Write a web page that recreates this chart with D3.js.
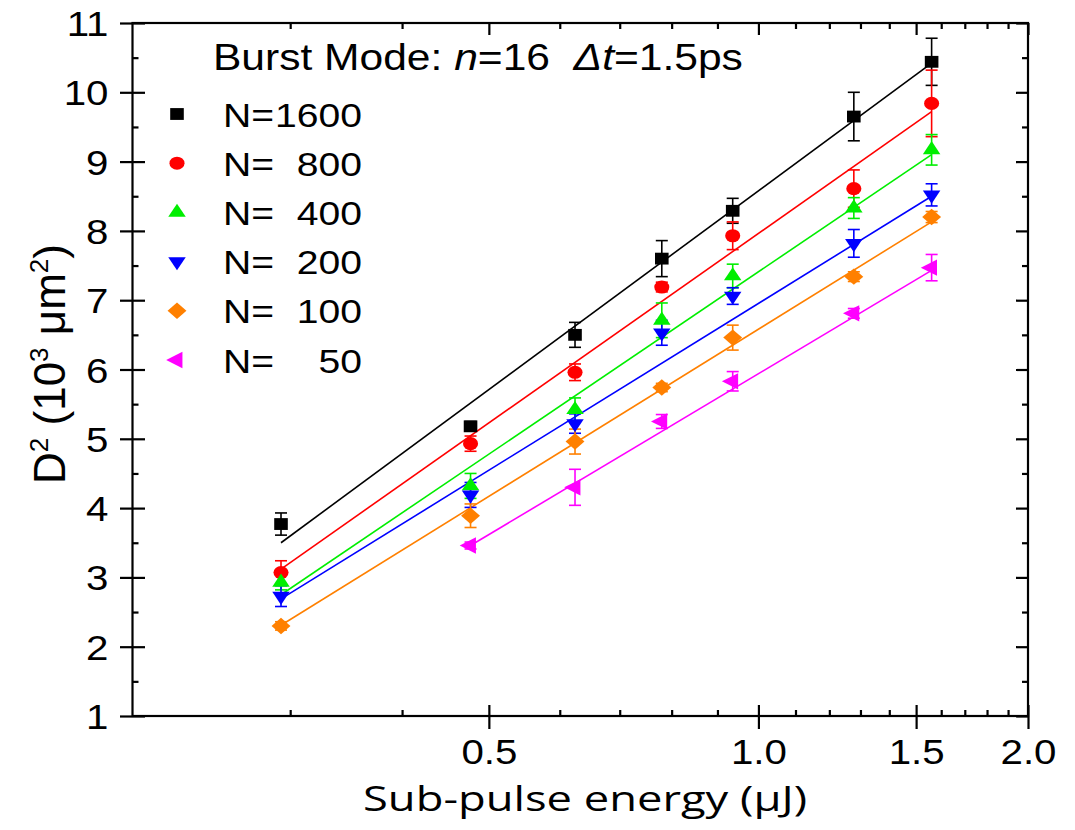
<!DOCTYPE html>
<html>
<head>
<meta charset="utf-8">
<script src="https://cdn.jsdelivr.net/npm/d3@7"></script>
<style>
  html, body { margin: 0; padding: 0; background: #fff; }
  svg { display: block; }
  text { font-family: "Liberation Sans", Arial, sans-serif; fill: #000; white-space: pre; }
</style>
</head>
<body>
<svg id="chart" width="1075" height="830"></svg>
<script>
// ---------- data ----------
const energies = [0.293, 0.477, 0.624, 0.780, 0.936, 1.278, 1.561];   // sub-pulse energy (µJ)

const legendNums = ["1600", "800", "400", "200", "100", "50"];
const colors = ["#000000", "#ff0000", "#00ee00", "#0000ff", "#ff8000", "#ff00ff"];

const d1600 = [3.77, 5.18, 6.50, 7.60, 8.29, 9.65, 10.44];
const e1600 = [0.16, 0.07, 0.18, 0.26, 0.18, 0.35, 0.34];
const d800  = [3.07, 4.93, 5.96, 7.19, 7.93, 8.61, 9.84];
const e800  = [0.17, 0.11, 0.12, 0.07, 0.20, 0.27, 0.48];
const d400  = [2.93, 4.32, 5.42, 6.71, 7.35, 8.33, 9.17];
const e400  = [0.11, 0.18, 0.17, 0.25, 0.17, 0.15, 0.22];
const d200  = [2.73, 4.19, 5.22, 6.53, 7.06, 7.82, 8.52];
const e200  = [0.15, 0.18, 0.14, 0.18, 0.12, 0.20, 0.16];
const d100  = [2.30, 3.89, 4.96, 5.74, 6.46, 7.34, 8.20];
const e100  = [0.06, 0.17, 0.18, 0.06, 0.18, 0.07, 0.08];
const d50   = [null, 3.46, 4.30, 5.25, 5.83, 6.81, 7.47];
const e50   = [null, 0.05, 0.26, 0.10, 0.14, 0.07, 0.19];

// linear fits (straight on the log-x axis): value at first and last fitted energy
const fitStart = [3.50, 3.12, 2.75, 2.69, 2.31, 3.46];
const fitEnd   = [10.42, 9.72, 9.10, 8.50, 8.13, 7.43];
const fitFrom  = [0, 0, 0, 0, 0, 1];

const xMajor = [0.5, 1.0, 1.5, 2.0];
const xMinor = [0.3, 0.4, 0.6, 0.7, 0.8, 0.9, 1.1, 1.2, 1.3, 1.4, 1.6, 1.7, 1.8, 1.9];
const yMajor = [1, 2, 3, 4, 5, 6, 7, 8, 9, 10, 11];
const yMinor = [1.5, 2.5, 3.5, 4.5, 5.5, 6.5, 7.5, 8.5, 9.5, 10.5];

const values = [d1600, d800, d400, d200, d100, d50];
const errors = [e1600, e800, e400, e200, e100, e50];

// ---------- layout ----------
const L = 132.5, R = 1028, T = 23, B = 716;
const SX = 1.15; // horizontal stretch of the original picture
const svg = d3.select("#chart");

const x = d3.scaleLog().domain([0.2, 2.0]).range([L, R]);
const y = d3.scaleLinear().domain([1, 11]).range([B, T]);

const AX = 2.2;

function styleAxis(g) {
  g.select(".domain").remove();
  g.selectAll(".tick line").attr("stroke", "#000").attr("stroke-width", AX);
}

// bottom major
const gb = svg.append("g").attr("transform", `translate(0,${B})`)
  .call(d3.axisBottom(x).tickValues(xMajor).tickFormat(d3.format(".1f")).tickSizeOuter(0));
styleAxis(gb);
gb.selectAll(".tick line").attr("y1", -11).attr("y2", 13);
gb.selectAll(".tick text").attr("y", 0).attr("dy", 0)
  .attr("transform", `translate(0,48) scale(${SX},1)`)
  .style("font-size", "35px").attr("fill", "#000");
// bottom minor
const gbm = svg.append("g").attr("transform", `translate(0,${B})`)
  .call(d3.axisBottom(x).tickValues(xMinor).tickFormat("").tickSizeOuter(0));
styleAxis(gbm);
gbm.selectAll(".tick line").attr("y1", 0).attr("y2", -6);

// top
const gt = svg.append("g").attr("transform", `translate(0,${T})`)
  .call(d3.axisTop(x).tickValues(xMajor).tickFormat("").tickSizeOuter(0));
styleAxis(gt);
gt.selectAll(".tick line").attr("y1", 0).attr("y2", 12);
const gtm = svg.append("g").attr("transform", `translate(0,${T})`)
  .call(d3.axisTop(x).tickValues(xMinor).tickFormat("").tickSizeOuter(0));
styleAxis(gtm);
gtm.selectAll(".tick line").attr("y1", 0).attr("y2", 6);

// left
const gl = svg.append("g").attr("transform", `translate(${L},0)`)
  .call(d3.axisLeft(y).tickValues(yMajor).tickFormat(d3.format("d")).tickSizeOuter(0));
styleAxis(gl);
gl.selectAll(".tick line").attr("x1", -12.5).attr("x2", 12.5);
gl.selectAll(".tick text").attr("x", 0).attr("dy", 0)
  .attr("transform", `translate(-24,12.5) scale(${SX},1)`)
  .attr("text-anchor", "end")
  .style("font-size", "35px").attr("fill", "#000");
const glm = svg.append("g").attr("transform", `translate(${L},0)`)
  .call(d3.axisLeft(y).tickValues(yMinor).tickFormat("").tickSizeOuter(0));
styleAxis(glm);
glm.selectAll(".tick line").attr("x1", 0).attr("x2", 6);

// right
const gr = svg.append("g").attr("transform", `translate(${R},0)`)
  .call(d3.axisRight(y).tickValues(yMajor).tickFormat("").tickSizeOuter(0));
styleAxis(gr);
gr.selectAll(".tick line").attr("x1", 0).attr("x2", -12);
const grm = svg.append("g").attr("transform", `translate(${R},0)`)
  .call(d3.axisRight(y).tickValues(yMinor).tickFormat("").tickSizeOuter(0));
styleAxis(grm);
grm.selectAll(".tick line").attr("x1", 0).attr("x2", -6);

// frame
svg.append("rect").attr("x", L).attr("y", T).attr("width", R - L).attr("height", B - T)
  .attr("fill", "none").attr("stroke", "#000").attr("stroke-width", AX);

// ---------- fit lines ----------
const plot = svg.append("g");
values.forEach((vals, i) => {
  const x0 = energies[fitFrom[i]], x1 = energies[energies.length - 1];
  plot.append("line")
    .attr("x1", x(x0)).attr("y1", y(fitStart[i]))
    .attr("x2", x(x1)).attr("y2", y(fitEnd[i]))
    .attr("stroke", colors[i]).attr("stroke-width", 1.6);
});

// ---------- error bars ----------
const capW = 6;
values.forEach((vals, i) => {
  vals.forEach((v, j) => {
    if (v == null) return;
    const e = errors[i][j];
    const cx = x(energies[j]);
    const g = plot.append("g").attr("stroke", colors[i]).attr("stroke-width", 1.6);
    g.append("line").attr("x1", cx).attr("x2", cx).attr("y1", y(v - e)).attr("y2", y(v + e));
    g.append("line").attr("x1", cx - capW).attr("x2", cx + capW).attr("y1", y(v + e)).attr("y2", y(v + e));
    g.append("line").attr("x1", cx - capW).attr("x2", cx + capW).attr("y1", y(v - e)).attr("y2", y(v - e));
  });
});

// ---------- markers ----------
const markerDefs = [
  { type: d3.symbolSquare, size: 140, rot: 0 },
  { type: d3.symbolCircle, size: 135, rot: 0 },
  { type: d3.symbolTriangle, size: 100, rot: 0 },
  { type: d3.symbolTriangle, size: 100, rot: 180 },
  { type: d3.symbolSquare, size: 135, rot: 45 },
  { type: d3.symbolTriangle, size: 115, rot: -90 }
];
function marker(g, i, cx, cy) {
  const m = markerDefs[i];
  g.append("path")
    .attr("d", d3.symbol().type(m.type).size(m.size)())
    .attr("transform", `translate(${cx},${cy}) scale(${SX},1) rotate(${m.rot})`)
    .attr("fill", colors[i]);
}
values.forEach((vals, i) => {
  vals.forEach((v, j) => {
    if (v == null) return;
    marker(plot, i, x(energies[j]), y(v));
  });
});

// ---------- legend ----------
const legY0 = 114, legDY = 49.2;
legendNums.forEach((n, i) => {
  const cy = legY0 + i * legDY;
  marker(svg, i, 177, cy);
  svg.append("text").attr("transform", `translate(223,${cy + 12.5}) scale(${SX},1)`)
    .style("font-size", "34px").text("N=");
  svg.append("text").attr("transform", `translate(362,${cy + 12.5}) scale(${SX},1)`)
    .attr("text-anchor", "end").style("font-size", "34px").text(n);
});

// ---------- title ----------
const title = svg.append("text").attr("transform", `translate(213,70) scale(${SX},1)`)
  .style("font-size", "37px");
title.append("tspan").text("Burst Mode: ");
title.append("tspan").style("font-style", "italic").text("n");
title.append("tspan").text("=16  ");
title.append("tspan").style("font-style", "italic").text("\u0394t");
title.append("tspan").text("=1.5ps");

// ---------- axis titles ----------
svg.append("text")
  .attr("x", 363).attr("y", 811)
  .attr("textLength", 444).attr("lengthAdjust", "spacingAndGlyphs")
  .style("font-family", "'Open Sans', 'Noto Sans', sans-serif")
  .style("font-size", "35px")
  .text("Sub-pulse energy (\u03bcJ)");

const yl = svg.append("text")
  .attr("transform", "translate(65,364) rotate(-90)")
  .attr("text-anchor", "middle")
  .style("font-size", "44px");
yl.append("tspan").text("D");
yl.append("tspan").attr("dy", -17).style("font-size", "26px").text("2");
yl.append("tspan").attr("dy", 17).text(" (10");
yl.append("tspan").attr("dy", -17).style("font-size", "26px").text("3");
yl.append("tspan").attr("dy", 17).text(" \u03bcm");
yl.append("tspan").attr("dy", -17).style("font-size", "26px").text("2");
yl.append("tspan").attr("dy", 17).text(")");
</script>
</body>
</html>
